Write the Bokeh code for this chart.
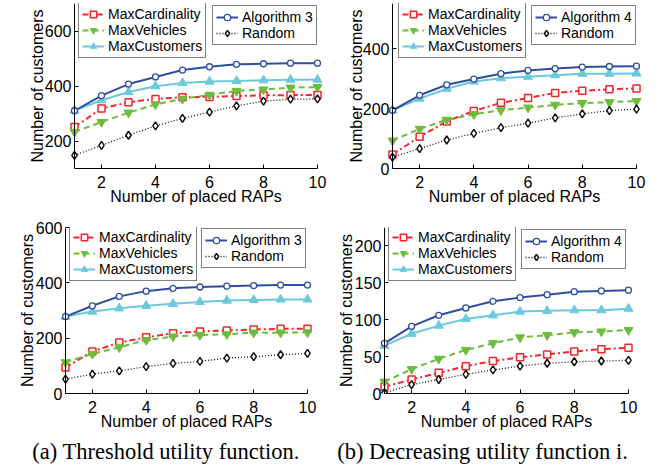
from bokeh.plotting import figure
from bokeh.models import Range1d, Legend, LegendItem, Span
from bokeh.layouts import column, row
from bokeh.core.properties import value
from bokeh.embed import file_html
from bokeh.resources import INLINE

# ---------------- data ----------------
raps = [1, 2, 3, 4, 5, 6, 7, 8, 9, 10]
x_ticks = [2, 4, 6, 8, 10]

series_names = ["MaxCardinality", "MaxVehicles", "MaxCustomers"]

# (a) Threshold utility function, top
a1_maxcard = [251, 318, 341, 353, 359, 360, 364, 366, 367, 367]
a1_maxveh = [233, 269, 303, 333, 353, 368, 382, 387, 394, 396]
a1_maxcust = [311, 348, 378, 399, 411, 416, 418, 421, 423, 423]
a1_alg = [310, 365, 407, 433, 458, 470, 479, 481, 483, 483]
a1_random = [148, 184, 221, 255, 282, 305, 328, 345, 352, 353]
a1_yticks = [200, 400, 600]

# (b) Decreasing utility function, top
b1_maxcard = [47, 106, 157, 192, 219, 235, 252, 259, 264, 267]
b1_maxveh = [93, 132, 162, 181, 194, 203, 212, 218, 221, 225]
b1_maxcust = [194, 233, 266, 290, 301, 306, 311, 316, 316, 317]
b1_alg = [194, 244, 279, 298, 316, 327, 333, 338, 340, 341]
b1_random = [38, 66, 95, 117, 136, 151, 169, 182, 193, 198]
b1_yticks = [0, 200, 400]

# (a) Threshold utility function, bottom
a2_maxcard = [94, 152, 184, 203, 218, 224, 228, 231, 234, 234]
a2_maxveh = [113, 143, 167, 193, 206, 211, 214, 220, 220, 221]
a2_maxcust = [278, 296, 308, 317, 324, 331, 336, 338, 340, 340]
a2_alg = [278, 317, 351, 370, 380, 385, 388, 390, 392, 392]
a2_random = [52, 70, 82, 97, 109, 116, 128, 133, 140, 145]
a2_yticks = [0, 200, 400, 600]

# (b) Decreasing utility function, bottom
b2_maxcard = [9, 19, 28, 37, 44, 49, 53, 57, 60, 62]
b2_maxveh = [16, 33, 47, 59, 68, 76, 79, 83, 84, 86]
b2_maxcust = [65, 81, 92, 101, 106, 111, 112, 113, 113, 115]
b2_alg = [68, 91, 106, 116, 125, 130, 134, 138, 139, 140]
b2_random = [1, 12, 19, 26, 32, 37, 41, 43, 44, 45]
b2_yticks = [0, 50, 100, 150, 200]

x_label = "Number of placed RAPs"
y_label = "Number of customers"
caption_a = "(a) Threshold utility function."
caption_b = "(b) Decreasing utility function i."

SANS = "Liberation Sans"
SERIF = "Liberation Serif"

RED = "#f2262a"
GREEN = "#6cbd3c"
CYAN = "#6cc9dc"
BLUE = "#2f4e9f"
BLACK = "#111111"

PAD = 6  # px of room left/right of x=1 / x=10 so end markers are not clipped


def make_panel(w, h, bl, br, bt, bb, ylo, yhi, yticks, data, alg_name,
               l1_pos, l2_pos, ylab_standoff):
    frame_w = w - bl - br
    frame_h = h - bt - bb
    k = (frame_w - 2 * PAD) / 9.0
    p = figure(width=w, height=h, output_backend="svg", toolbar_location=None,
               x_range=Range1d(raps[0] - PAD / k, raps[-1] + PAD / k),
               y_range=Range1d(ylo, yhi),
               min_border_left=bl, min_border_right=br,
               min_border_top=bt, min_border_bottom=bb)
    p.outline_line_color = None
    p.grid.visible = False
    p.background_fill_color = "white"
    p.border_fill_color = "white"

    p.xaxis.ticker = x_ticks
    p.xaxis.bounds = (raps[0], raps[-1])
    p.yaxis.ticker = yticks
    for ax in (p.xaxis[0], p.yaxis[0]):
        ax.axis_line_color = "black"
        ax.axis_line_width = 1
        ax.major_tick_line_color = "black"
        ax.minor_tick_in = 0
        ax.minor_tick_out = 0
        ax.major_label_text_font = SANS
        ax.major_label_text_font_size = "16px"
        ax.major_label_text_color = "black"
        ax.axis_label_text_font = SANS
        ax.axis_label_text_font_size = "16px"
        ax.axis_label_text_font_style = "normal"
        ax.axis_label_text_color = "black"
    p.xaxis.major_tick_in = 4
    p.xaxis.major_tick_out = 0
    p.xaxis.axis_label = x_label
    p.xaxis.major_label_standoff = 7
    p.xaxis.axis_label_standoff = -3
    # y axis drawn at frame left, shifted by PAD to sit on x=1
    p.yaxis.axis_line_color = None
    p.yaxis.major_tick_out = -PAD
    p.yaxis.major_tick_in = PAD + 4
    p.yaxis.axis_label = y_label
    p.yaxis.major_label_standoff = -3
    p.yaxis.axis_label_standoff = ylab_standoff
    p.add_layout(Span(location=raps[0], dimension="height", line_color="black",
                      line_width=1))

    card, veh, cust, alg, rnd = data
    r_card_l = p.line(raps, card, line_color=RED, line_width=2, line_dash="6 3 2 3")
    r_card_m = p.scatter(raps, card, marker="square", size=7, line_color=RED,
                         fill_color="white", line_width=1.5)
    r_veh_l = p.line(raps, veh, line_color=GREEN, line_width=2, line_dash="6 4")
    r_veh_m = p.scatter(raps, veh, marker="inverted_triangle", size=9,
                        line_color=GREEN, fill_color=GREEN)
    r_cust_l = p.line(raps, cust, line_color=CYAN, line_width=2)
    r_cust_m = p.scatter(raps, cust, marker="triangle", size=9,
                         line_color=CYAN, fill_color=CYAN)
    r_rnd_l = p.line(raps, rnd, line_color=BLACK, line_width=1.3, line_dash="1 2")
    r_rnd_m = p.scatter(raps, rnd, marker="diamond", size=8, line_color=BLACK,
                        fill_color="white", line_width=1.5)
    r_alg_l = p.line(raps, alg, line_color=BLUE, line_width=2)
    r_alg_m = p.scatter(raps, alg, marker="circle", size=6, line_color=BLUE,
                        fill_color="white", line_width=1.3)

    lh = 16
    lpad = 3

    def style(leg):
        leg.label_text_font = SANS
        leg.label_text_font_size = "14px"
        leg.label_text_color = "black"
        leg.label_height = lh
        leg.glyph_height = lh
        leg.glyph_width = 22
        leg.label_standoff = 4
        leg.spacing = 0
        leg.padding = lpad
        leg.margin = 0
        leg.border_line_color = "black"
        leg.border_line_width = 1
        leg.background_fill_color = "white"
        leg.background_fill_alpha = 1.0

    l1h = 3 * lh + 2 * lpad
    l2h = 2 * lh + 2 * lpad
    leg1 = Legend(items=[
        LegendItem(label=series_names[0], renderers=[r_card_l, r_card_m]),
        LegendItem(label=series_names[1], renderers=[r_veh_l, r_veh_m]),
        LegendItem(label=series_names[2], renderers=[r_cust_l, r_cust_m]),
    ], location=(l1_pos[0], frame_h - l1_pos[1] - l1h))
    leg2 = Legend(items=[
        LegendItem(label=alg_name, renderers=[r_alg_l, r_alg_m]),
        LegendItem(label="Random", renderers=[r_rnd_l, r_rnd_m]),
    ], location=(l2_pos[0], frame_h - l2_pos[1] - l2h))
    style(leg1)
    style(leg2)
    p.add_layout(leg1)
    p.add_layout(leg2)
    return p


p1 = make_panel(331, 210, 68, 8, 3, 42, 100, 700, a1_yticks,
                (a1_maxcard, a1_maxveh, a1_maxcust, a1_alg, a1_random),
                "Algorithm 3", (10, 1), (144, 4), -4)
p2 = make_panel(331, 210, 55, 20, 3, 42, 0, 550, b1_yticks,
                (b1_maxcard, b1_maxveh, b1_maxcust, b1_alg, b1_random),
                "Algorithm 4", (12, 1), (145, 4), -5)
p3 = make_panel(322, 225, 59, 9, 17, 42, 0, 600, a2_yticks,
                (a2_maxcard, a2_maxveh, a2_maxcust, a2_alg, a2_random),
                "Algorithm 3", (10, 0), (142, 3), -3)
p4 = make_panel(340, 225, 56, 28, 17, 42, 0, 225, b2_yticks,
                (b2_maxcard, b2_maxveh, b2_maxcust, b2_alg, b2_random),
                "Algorithm 4", (10, 0), (143, 4), -3)


def caption(w, cx, txt):
    c = figure(width=w, height=30, output_backend="svg", toolbar_location=None,
               x_range=Range1d(0, w), y_range=Range1d(0, 30),
               min_border_left=0, min_border_right=0, min_border_top=0,
               min_border_bottom=0)
    c.axis.visible = False
    c.grid.visible = False
    c.outline_line_color = None
    c.text(x=[cx], y=[14], text=[txt], text_align="center", text_baseline="middle",
           text_font=value(SERIF), text_font_size="22.5px", text_color="black")
    return c


c1 = caption(331, 165.5, caption_a)
c2 = caption(331, 151, caption_b)

layout = column(row(p1, p2), row(p3, p4), row(c1, c2))

open("out.html", "w").write(file_html(layout, INLINE))
